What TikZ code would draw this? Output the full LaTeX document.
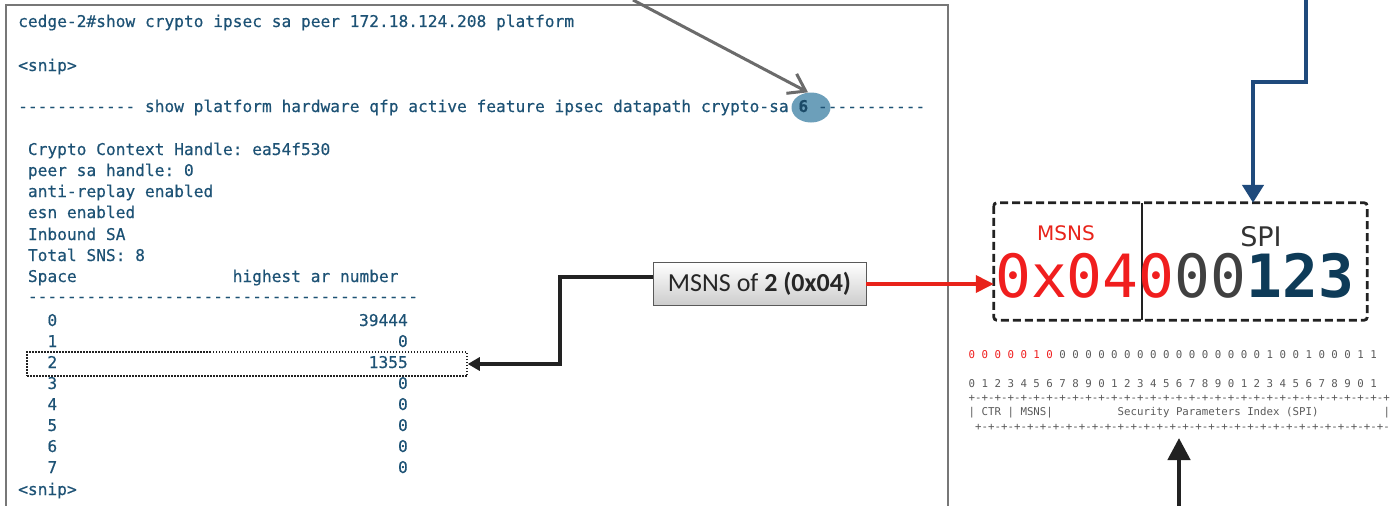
\documentclass[tikz,border=0pt]{standalone}
\usepackage{fontspec}
\setmonofont{DejaVu Sans Mono}
\newfontfamily\termfont{DejaVu Sans Mono}[FakeBold=0.35, WordSpace={1,0,0}, PunctuationSpace=WordSpace]
\newfontfamily\labelfont{Carlito}
\newfontfamily\headfont{DejaVu Sans}
\usetikzlibrary{arrows.meta,shapes.geometric}

\definecolor{termtext}{HTML}{1D5275}
\definecolor{termframe}{HTML}{777777}
\definecolor{badgefill}{HTML}{6C9FBA}
\definecolor{badgetext}{HTML}{1B4A68}
\definecolor{alertred}{HTML}{E8231A}
\definecolor{digitred}{HTML}{F01E1E}
\definecolor{spiblue}{HTML}{0E3B58}
\definecolor{pathblue}{HTML}{1F4A7C}
\definecolor{bitgray}{HTML}{5A5A5A}
\definecolor{inkdark}{HTML}{222222}

\tikzset{
  tt/.style={font=\termfont\frenchspacing\fontsize{16.2}{19}\selectfont, text=termtext,
             inner sep=0pt, anchor=base west},
  ttval/.style={tt, anchor=base east},
  bits/.style={font=\ttfamily\fontsize{10.76}{12}\selectfont, text=bitgray,
               inner sep=0pt, anchor=base west},
  bigdigits/.style={font=\ttfamily\fontsize{59.6}{60}\selectfont,
                    inner sep=0pt, anchor=base west},
  callout/.style={draw=black!65, line width=0.8pt, top color=white,
                  bottom color=black!20, minimum width=213pt,
                  minimum height=43pt, inner sep=0pt,
                  font=\labelfont\fontsize{26}{28}\selectfont, text=black!85},
  darkarrow/.style={draw=inkdark, line width=3.5pt,
                    -{Triangle[length=12pt,width=13pt]}},
  redarrow/.style={draw=alertred, line width=3.5pt,
                   -{Triangle[length=18pt,width=17pt]}},
  bluearrow/.style={draw=pathblue, line width=4.5pt,
                    -{Triangle[length=18pt,width=21pt]}},
  grayarrow/.style={draw=black!58, line width=3pt,
                    -{Straight Barb[length=16pt,width=22pt]}},
  uparrow/.style={draw=inkdark, line width=4.5pt,
                  -{Triangle[length=22pt,width=22pt]}},
}

\begin{document}
\begin{tikzpicture}[x=1pt,y=-1pt]
\useasboundingbox (0,0) rectangle (1398,506);
\fill[white] (0,0) rectangle (1398,506);

% terminal window
\draw[termframe, line width=2pt] (6,506) -- (6,5) -- (948,5) -- (948,506);

% badge behind the crypto-sa index
\node[ellipse, fill=badgefill, minimum width=39pt, minimum height=30pt,
      inner sep=0pt] (badge) at (811,107.5) {};

\node[tt] (cmd)   at (18,27)  {cedge-2\#show crypto ipsec sa peer 172.18.124.208 platform};
\node[tt] (snipa) at (18,71)  {<snip>};
\node[tt] (hdr)   at (18,112) {------------ show platform hardware qfp active feature ipsec datapath crypto-sa {\color{badgetext}\bfseries 6} -----------};

\node[tt] (ctx)   at (27.75,155) {Crypto Context Handle: ea54f530};
\node[tt] (peer)  at (27.75,176) {peer sa handle: 0};
\node[tt] (arp)   at (27.75,197) {anti-replay enabled};
\node[tt] (esn)   at (27.75,218) {esn enabled};
\node[tt] (inb)   at (27.75,240) {Inbound SA};
\node[tt] (tot)   at (27.75,261) {Total SNS: 8};
\node[tt] (colA)  at (27.75,282) {Space};
\node[tt] (colB)  at (232.5,282) {highest ar number};
\node[tt] (rule)  at (27.75,302) {----------------------------------------};

% space / highest anti-replay number table
\foreach \i/\v/\y in {0/39444/326, 1/0/347, 2/1355/368, 3/0/389,
                      4/0/410, 5/0/431, 6/0/452, 7/0/473} {
  \node[tt]    (idx\i) at (47.25,\y) {\i};
  \node[ttval] (val\i) at (408,\y)   {\v};
}
\node[tt] (snipb) at (18,495) {<snip>};

% highlighted row
\node[draw=inkdark, line width=1.5pt, dash pattern=on 1.5pt off 1.5pt,
      minimum width=440pt, minimum height=24pt, inner sep=0pt]
      (hl) at (247,364) {};

% callout
\node[callout] (msns) at (759.5,284) {MSNS of \textbf{2 (0x04)}};

% SPI field box
\node[minimum width=373pt, minimum height=117pt, inner sep=0pt] (field) at (1180.5,261.5) {};
\draw[inkdark, line width=2.8pt, dash pattern=on 8pt off 4pt, rounded corners=3pt]
  (field.north west) rectangle (field.south east);
\draw[inkdark, line width=2.8pt] (1142,203) -- (1142,320);

\node[font=\headfont\fontsize{20}{22}\selectfont, text=alertred, inner sep=0pt]
  (msnslbl) at (1066,233) {MSNS};
\node[font=\headfont\fontsize{27}{29}\selectfont, text=black!80, inner sep=0pt]
  (spilbl) at (1261,237) {SPI};
\node[bigdigits] (spival) at (995,297)
  {{\color{digitred}0x040}{\color{black!75}00}{\color{spiblue}\bfseries 123}};

% bit layout
\node[bits] (bitsval) at (968.5,358.9)
  {{\color{digitred}0 0 0 0 0 1 0} 0 0 0 0 0 0 0 0 0 0 0 0 0 0 0 0 1 0 0 1 0 0 0 1 1};
\node[bits] (ruler) at (968.5,387.2)
  {0 1 2 3 4 5 6 7 8 9 0 1 2 3 4 5 6 7 8 9 0 1 2 3 4 5 6 7 8 9 0 1};
\node[bits] (topedge) at (968.5,401.8)
  {+-+-+-+-+-+-+-+-+-+-+-+-+-+-+-+-+-+-+-+-+-+-+-+-+-+-+-+-+-+-+-+-+};
\node[bits] (fldA) at (968.5,415.6) {| CTR | MSNS|};
\node[bits] (fldB) at (1117.5,415.6) {Security Parameters Index (SPI)};
\node[bits] (fldC) at (1383.3,415.6) {|};
\node[bits] (botedge) at (975,430.2)
  {+-+-+-+-+-+-+-+-+-+-+-+-+-+-+-+-+-+-+-+-+-+-+-+-+-+-+-+-+-+-+-+-};

% connectors
\coordinate (graytop) at (633,0);
\draw[grayarrow] (graytop) -- ([xshift=-3pt]badge.north);

\coordinate (bend) at (560,277);
\draw[darkarrow] ([yshift=7pt]msns.west) -- (bend) -- (bend |- hl.east) -- (hl.east);

\draw[redarrow] (msns.east) -- (msns.east -| field.west);

\coordinate (bluetop) at (1306,0);
\coordinate (bluejog) at (1306,82);
\coordinate (bluestep) at (1253,82);
\draw[bluearrow] (bluetop) -- (bluejog) -- (bluestep) -- (bluestep |- field.north);

\coordinate (upfoot) at (1179,506);
\coordinate (uptip) at (1179,438);
\draw[uparrow] (upfoot) -- (uptip);
\end{tikzpicture}
\end{document}
